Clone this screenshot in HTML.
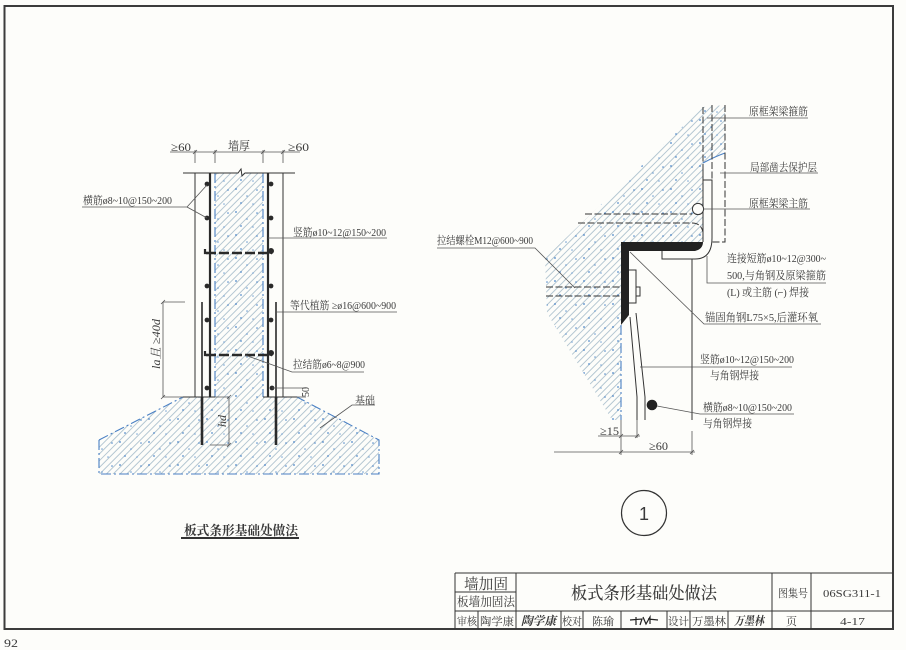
<!DOCTYPE html>
<html><head><meta charset="utf-8"><style>
html,body{margin:0;padding:0;background:#fdfdfa}
svg{display:block;filter:blur(.35px)}
text{font-family:"Liberation Serif","Noto Serif CJK SC",serif;fill:#3a3a3a}
.s{font-family:"Liberation Sans","Noto Sans CJK SC",sans-serif}
</style></head><body>
<svg width="906" height="650" viewBox="0 0 906 650" font-size="11" xmlns="http://www.w3.org/2000/svg">
<defs>
<pattern id="h" width="4.8" height="4.8" patternUnits="userSpaceOnUse" patternTransform="rotate(-45)">
<line x1="0" y1="2.4" x2="4.8" y2="2.4" stroke="#9db6c6" stroke-width="0.75"/>
</pattern>
<pattern id="d" width="29" height="23" patternUnits="userSpaceOnUse">
<circle cx="4" cy="5" r="0.9" fill="#4d86c8"/><circle cx="15" cy="12" r="0.8" fill="#6b9bd0"/>
<circle cx="25" cy="6" r="0.8" fill="#4d86c8"/><circle cx="9" cy="19" r="0.9" fill="#5a90cc"/>
<circle cx="21" cy="20" r="0.8" fill="#7aa6d6"/>
</pattern>
</defs>
<rect width="906" height="650" fill="#fdfdfa"/>
<rect x="4.5" y="6" width="888.5" height="623" fill="none" stroke="#3c3c3c" stroke-width="2"/>
<text x="4" y="647" font-size="12" textLength="14" lengthAdjust="spacingAndGlyphs">92</text>

<!-- LEFT: concrete -->
<polygon points="215,173 263,173 263,397 297,397 379,440 379,474 99,474 99,440 183,397 215,397" fill="url(#h)"/>
<polygon points="215,173 263,173 263,397 297,397 379,440 379,474 99,474 99,440 183,397 215,397" fill="url(#d)"/>
<g fill="none" stroke="#4a80c4" stroke-width="1.1" stroke-dasharray="10 3 2 3">
<path d="M215,173V397M263,173V397"/>
<path d="M99,440V474H379V440L297,397M99,440L183,397"/>
</g>
<g fill="none" stroke="#333" stroke-width="1">
<path d="M183,173H238L241,169L242,176L245,173H295"/>
<path d="M195,173V397M283,173V397M183,397H195M283,397H297"/>
<path d="M195,397H215M263,397H283"/>
</g>
<g stroke="#2a2a2a" stroke-width="2.2" fill="none">
<path d="M210,173V397M268,173V397"/>
<path d="M202,302V397M276,302V397" stroke-width="1.6"/>
<path d="M202,397V445M276,397V445" stroke-width="2.6"/>
<path d="M206,253H272" stroke-width="2.4" stroke-dasharray="10 3"/>
<path d="M206,355H272" stroke-width="2.4" stroke-dasharray="10 3"/>
<path d="M205,249V253H208M205,351V355H208"/>
</g>
<g fill="#2a2a2a">
<circle cx="207" cy="184" r="2.4"/><circle cx="207" cy="218" r="2.4"/><circle cx="207" cy="286" r="2.4"/><circle cx="207" cy="320" r="2.4"/><circle cx="207" cy="388" r="2.4"/>
<circle cx="271" cy="184" r="2.4"/><circle cx="271" cy="218" r="2.4"/><circle cx="271" cy="286" r="2.4"/><circle cx="271" cy="320" r="2.4"/><circle cx="272" cy="388" r="2.4"/>
<circle cx="271" cy="251" r="3"/><circle cx="271" cy="353" r="3"/>
</g>
<g fill="none" stroke="#555" stroke-width="0.8">
<path d="M170,152H300M195,150V163M215,150V163M263,150V163M283,150V163"/>
<path d="M193,154L197,150M213,154L217,150M261,154L265,150M281,154L285,150"/>
<path d="M82,207H187L207,185M187,207L207,218"/>
<path d="M268,238H387M276,312H397"/>
<path d="M245,355L292,372H364"/>
<path d="M163,302V397M163,302H185M161,304L165,300M161,399L165,395M163,397H183"/>
<path d="M229,397V445M215,397H229M210,445H229M227,447L231,443M227,399L231,395"/>
<path d="M272,388H306M297,397H306"/>
<path d="M320,428L352,405H375"/>
</g>
<text x="171" y="151" font-size="12" textLength="20" lengthAdjust="spacingAndGlyphs">≥60</text>
<text x="228" y="150" font-size="12" textLength="22" lengthAdjust="spacingAndGlyphs">墙厚</text>
<text x="288" y="151" font-size="12" textLength="21" lengthAdjust="spacingAndGlyphs">≥60</text>
<text x="83" y="204" textLength="89" lengthAdjust="spacingAndGlyphs">横筋ø8~10@150~200</text>
<text x="293" y="236" textLength="93" lengthAdjust="spacingAndGlyphs">竖筋ø10~12@150~200</text>
<text x="290" y="309" textLength="106" lengthAdjust="spacingAndGlyphs">等代植筋 ≥ø16@600~900</text>
<text x="293" y="368" textLength="72" lengthAdjust="spacingAndGlyphs">拉结筋ø6~8@900</text>
<text x="355" y="404" textLength="20" lengthAdjust="spacingAndGlyphs">基础</text>
<text transform="translate(160,369) rotate(-90)" font-size="12" font-style="italic" textLength="50" lengthAdjust="spacingAndGlyphs">la且 ≥40d</text>
<text transform="translate(226,427) rotate(-90)" font-size="12" font-style="italic">hd</text>
<text transform="translate(309,397) rotate(-90)" font-size="10">50</text>
<text x="184" y="535" font-size="13" font-weight="bold" textLength="114" lengthAdjust="spacingAndGlyphs">板式条形基础处做法</text>
<rect x="181" y="537" width="118" height="2" fill="#333"/>

<!-- RIGHT: concrete -->
<polygon points="725,105 725,153 703,163 703,242 621,242 621,420 612,420 547,313 545,258 703,107" fill="url(#h)"/>
<polygon points="725,105 725,153 703,163 703,242 621,242 621,420 612,420 547,313 545,258 703,107" fill="url(#d)"/>
<path d="M621,325V420" stroke="#4a80c4" stroke-width="1.1" stroke-dasharray="10 3 2 3" fill="none"/>
<path d="M703,163Q714,157 725,153" stroke="#4a80c4" stroke-width="1" fill="none"/>
<path d="M621,242H703Q703,249 695,251H629V315L621,325Z" fill="#222"/>
<g fill="none" stroke="#333" stroke-width="1">
<path d="M703,107V168M712,105V180M725,105V242H712" stroke-dasharray="7 2.5"/>
<path d="M703,168V242M703,180H712V238Q712,259 695,259H662V251"/>
<path d="M692,259V420"/>
<path d="M585,214H692M578,223H692Q701,223 703,232M546,287H621M546,296H621" stroke-dasharray="7 2.5"/>
<path d="M629,270H636V303H629M636,287H640V296H636"/>
<path d="M630,317L637,397V420M636,313L645,397V420"/>
</g>
<circle cx="698" cy="209" r="5.6" fill="#fdfdfa" stroke="#333" stroke-width="1"/>
<circle cx="652" cy="405" r="5.3" fill="#222"/>
<g fill="none" stroke="#555" stroke-width="0.8">
<path d="M707,118H808M720,173H818M703,209H810"/>
<path d="M707,256V283H826"/>
<path d="M630,252L704,324H821"/>
<path d="M437,248H535L575,288"/>
<path d="M640,367H792"/>
<path d="M657,406L700,414H794"/>
<path d="M598,436H640M621,420V455M637,420V438M692,431V455M554,452H695"/>
<path d="M619,438L623,434M635,438L639,434M619,454L623,450M690,454L694,450"/>
</g>
<text x="749" y="115" textLength="59" lengthAdjust="spacingAndGlyphs">原框架梁箍筋</text>
<text x="750" y="171" textLength="67" lengthAdjust="spacingAndGlyphs">局部凿去保护层</text>
<text x="749" y="207" textLength="59" lengthAdjust="spacingAndGlyphs">原框架梁主筋</text>
<text x="727" y="262" textLength="99" lengthAdjust="spacingAndGlyphs">连接短筋ø10~12@300~</text>
<text x="727" y="279" textLength="99" lengthAdjust="spacingAndGlyphs">500,与角钢及原梁箍筋</text>
<text x="727" y="296" textLength="82" lengthAdjust="spacingAndGlyphs">(L) 或主筋 (⌐) 焊接</text>
<text x="437" y="244" textLength="96" lengthAdjust="spacingAndGlyphs">拉结螺栓M12@600~900</text>
<text x="705" y="321" textLength="113" lengthAdjust="spacingAndGlyphs">锚固角钢L75×5,后灌环氧</text>
<text x="700" y="363" textLength="94" lengthAdjust="spacingAndGlyphs">竖筋ø10~12@150~200</text>
<text x="710" y="379" textLength="49" lengthAdjust="spacingAndGlyphs">与角钢焊接</text>
<text x="703" y="411" textLength="89" lengthAdjust="spacingAndGlyphs">横筋ø8~10@150~200</text>
<text x="703" y="427" textLength="49" lengthAdjust="spacingAndGlyphs">与角钢焊接</text>
<text x="600" y="435" font-size="12" textLength="19" lengthAdjust="spacingAndGlyphs">≥15</text>
<text x="649" y="450" font-size="12" textLength="19" lengthAdjust="spacingAndGlyphs">≥60</text>
<circle cx="644" cy="513" r="22.5" fill="none" stroke="#333" stroke-width="1.2"/>
<text class="s" x="644" y="520" font-size="18" text-anchor="middle">1</text>

<!-- title block -->
<g fill="none" stroke="#333" stroke-width="1">
<path d="M455,573H893M455,573V629M516,573V629M455,592H516M455,611H893M772,573V629M811,573V629"/>
<path d="M478,611V629M561,611V629M583,611V629M621,611V629M667,611V629M690,611V629M728,611V629"/>
</g>
<text x="464" y="589" font-size="15" textLength="44" lengthAdjust="spacingAndGlyphs">墙加固</text>
<text x="457" y="606" font-size="12.5" textLength="58" lengthAdjust="spacingAndGlyphs">板墙加固法</text>
<text x="571" y="599" font-size="17" font-weight="500" textLength="146" lengthAdjust="spacingAndGlyphs">板式条形基础处做法</text>
<text x="778" y="597" font-size="11" textLength="30" lengthAdjust="spacingAndGlyphs">图集号</text>
<text x="823" y="597" font-size="11" textLength="58" lengthAdjust="spacingAndGlyphs">06SG311-1</text>
<text x="457" y="625" font-size="11" textLength="20" lengthAdjust="spacingAndGlyphs">审核</text>
<text x="480" y="625" font-size="11" textLength="34" lengthAdjust="spacingAndGlyphs">陶学康</text>
<text x="521" y="625" font-size="12" font-weight="bold" font-style="italic" textLength="35" lengthAdjust="spacingAndGlyphs">陶学康</text>
<text x="562" y="625" font-size="11" textLength="20" lengthAdjust="spacingAndGlyphs">校对</text>
<text x="592" y="625" font-size="11" textLength="22" lengthAdjust="spacingAndGlyphs">陈瑜</text>
<path d="M630,620L642,619L640,625M636,617V625M643,617L646,624L650,617V624M648,619L658,620" fill="none" stroke="#222" stroke-width="1.2"/>
<text x="668" y="625" font-size="11" textLength="21" lengthAdjust="spacingAndGlyphs">设计</text>
<text x="692" y="625" font-size="11" textLength="34" lengthAdjust="spacingAndGlyphs">万墨林</text>
<text x="734" y="625" font-size="12" font-weight="bold" font-style="italic" textLength="30" lengthAdjust="spacingAndGlyphs">万墨林</text>
<text x="786" y="625" font-size="11">页</text>
<text x="840" y="625" font-size="11" textLength="25" lengthAdjust="spacingAndGlyphs">4-17</text>
</svg>
</body></html>
